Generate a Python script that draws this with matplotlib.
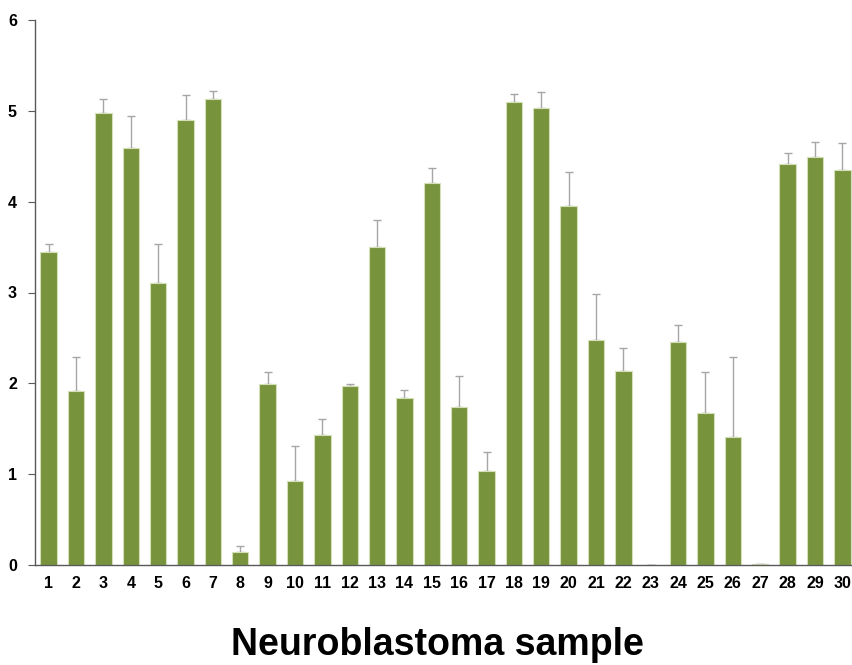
import numpy as np
import matplotlib.pyplot as plt

plt.rcParams['font.family'] = ['Liberation Sans', 'DejaVu Sans']

# Values
samples = [str(i) for i in range(1, 31)]
means = [3.45, 1.92, 4.98, 4.59, 3.10, 4.90, 5.13, 0.14, 1.99, 0.92,
         1.43, 1.97, 3.50, 1.84, 4.21, 1.74, 1.03, 5.10, 5.03, 3.95,
         2.48, 2.14, 0.00, 2.45, 1.67, 1.41, 0.01, 4.42, 4.49, 4.35]
err_top = [3.53, 2.29, 5.13, 4.94, 3.53, 5.17, 5.22, 0.21, 2.12, 1.31,
           1.61, 1.99, 3.80, 1.93, 4.37, 2.08, 1.24, 5.18, 5.21, 4.33,
           2.98, 2.39, 0.00, 2.64, 2.12, 2.29, 0.01, 4.54, 4.66, 4.65]

means = np.array(means)
err = np.array(err_top) - means
x = np.arange(1, len(samples) + 1)

fig = plt.figure(figsize=(8.52, 6.65), dpi=100)
ax = fig.add_axes([35 / 852, 100 / 665, 821 / 852, 545 / 665])

ax.bar(x, means, width=0.6, color='#77933c', edgecolor='#d3e0b8', linewidth=0.8,
       zorder=2)
ax.errorbar(x, means, yerr=[np.zeros_like(err), err], fmt='none',
            ecolor='#a6a6a6', elinewidth=1, capsize=3, capthick=1, zorder=1)

ax.set_xlim(0.5, 30.5)
ax.set_ylim(0, 6)
ax.set_yticks(range(0, 7))
ax.set_xticks(x)
ax.set_xticklabels(samples)

for s in ['top', 'right']:
    ax.spines[s].set_visible(False)
for s in ['left', 'bottom']:
    ax.spines[s].set_color('#595959')
    ax.spines[s].set_linewidth(1)

ax.tick_params(axis='y', length=5, color='#595959', pad=8, labelsize=11.5)
ax.tick_params(axis='x', length=0, pad=8, labelsize=11.5)
for lab in ax.get_xticklabels() + ax.get_yticklabels():
    lab.set_fontweight('bold')

fig.text(437 / 852, 1 - 645 / 665, 'Neuroblastoma sample', ha='center', va='center',
         fontsize=27, fontweight='bold')

fig.savefig('out.png', dpi=100)
